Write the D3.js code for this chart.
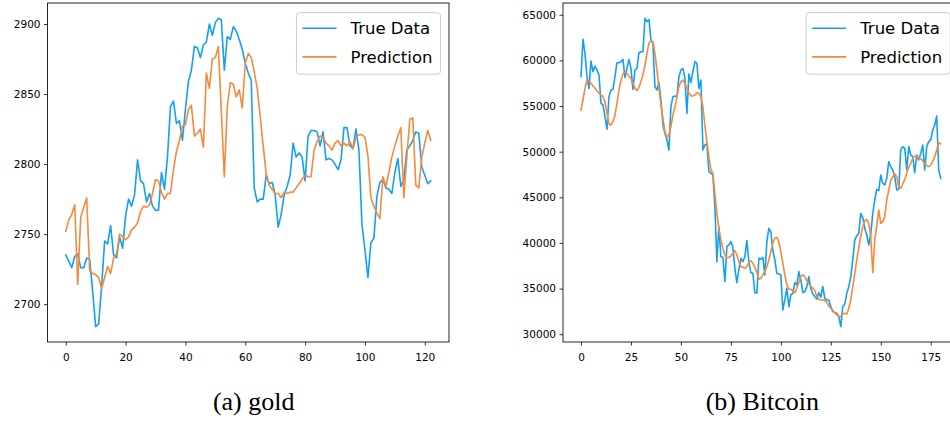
<!DOCTYPE html>
<html>
<head>
<meta charset="utf-8">
<script src="https://cdn.jsdelivr.net/npm/d3@7"></script>
<style>
  body { margin: 0; background: #fff; }
  svg { display: block; }
</style>
</head>
<body>
<svg id="fig" width="950" height="423"></svg>
<script>
// ---- data ----
const goldTrue = [2735,2731,2726,2734,2736,2726,2726,2733,2732,2709,2684,2686,2713,2745,2743,2756,2735,2733,2748,2740,
  2763,2775,2770,2778,2803,2788,2786,2773,2779,2770,2767,2767,2794,2782,2805,2841,2845,2829,2831,2817,
  2839,2859,2867,2884,2883,2876,2885,2887,2900,2892,2901,2904,2903,2867,2891,2889,2898,2895,2889,2882,
  2872,2865,2860,2783,2773,2775,2775,2792,2786,2787,2778,2755,2764,2778,2784,2792,2815,2805,2808,2805,
  2788,2820,2824,2824,2823,2813,2823,2803,2804,2803,2800,2796,2803,2826,2826,2813,2811,2825,2810,2757,
  2739,2719,2744,2747,2777,2787,2789,2783,2782,2779,2794,2804,2784,2789,2810,2813,2817,2823,2822,2798,
  2792,2786,2788];
const goldPred = [2752,2760,2764,2771,2714,2762,2769,2776,2724,2722,2721,2719,2711,2719,2727,2722,2733,2736,2750,2748,
  2746,2748,2753,2755,2758,2766,2770,2769,2771,2779,2789,2788,2780,2775,2779,2779,2796,2809,2817,2827,
  2828,2839,2842,2820,2822,2825,2812,2865,2854,2875,2876,2884,2838,2791,2841,2858,2857,2848,2853,2840,
  2872,2879,2876,2866,2854,2834,2813,2793,2785,2782,2779,2779,2776,2780,2779,2780,2780,2783,2786,2789,
  2792,2791,2791,2810,2816,2820,2819,2815,2813,2810,2815,2817,2813,2815,2813,2816,2811,2819,2821,2821,
  2819,2806,2776,2770,2765,2761,2791,2784,2794,2805,2813,2820,2826,2776,2805,2832,2833,2785,2783,2805,
  2815,2824,2817];

const btcTrue = [58215,62300,60770,58215,56940,59930,58760,59380,58945,58400,55300,55115,53835,52450,56025,56755,56830,58215,59750,59750,
  59860,60115,58140,59125,60115,59125,56830,58945,59125,60840,60950,60950,64600,64240,64490,62230,61865,57120,56755,57560,
  55660,52920,52010,51280,50185,54930,56025,56100,56025,58215,58945,59125,58030,54200,58510,57560,58760,59860,59675,56940,
  57850,50185,50730,50840,47810,47630,47445,43977,37950,41787,38502,38430,35765,39597,39780,40145,39524,37225,35655,37042,
  38320,37950,38502,40254,37950,36750,36677,34560,34487,38320,38210,38430,36495,40145,41605,41240,39232,38137,36677,36604,
  36495,32662,33757,35035,33027,34305,34487,35655,35400,36860,35947,34560,34670,35217,36312,35035,34414,34122,33830,34560,
  34050,35217,33940,33757,33757,33027,32480,32370,32297,31932,30837,33027,33319,34487,35217,36312,38137,40327,40765,41057,
  43247,42809,41605,40875,39780,40984,43247,44707,45875,45729,47445,46532,46350,47080,48905,48357,47992,47262,45802,45875,
  50185,50550,50370,47995,50550,49637,49455,47700,49637,49090,49820,50730,47992,50550,51100,51280,52375,52920,53910,47995,
  47080];
const btcPred = [54565,55660,56940,57850,57740,57485,57190,56940,56680,56390,56210,56025,55480,54200,53030,52920,53285,54020,55300,56755,
  57850,58510,58760,58580,58290,58030,57485,56940,56680,57050,57670,58400,59490,60770,61865,62160,62050,60770,58945,56940,
  55115,53650,52190,51570,51830,52740,54020,54930,56025,57120,57670,57850,57485,56940,56465,56100,56100,56210,56465,56390,
  56025,54930,52920,51100,49455,47995,47627,45437,43247,41605,40327,39415,38685,38320,38430,38575,38867,39159,38685,37950,
  37407,37334,37225,37407,37845,38064,37772,37334,36750,36020,36130,36495,36860,37407,38137,39050,39962,40510,40619,40145,
  39050,37772,36495,35400,34925,34925,34780,34560,35035,35655,36312,36495,36312,35874,35510,35290,35035,34780,34122,33830,
  33757,33757,33684,33465,33100,32845,32590,32370,32115,32005,31932,32225,32297,32225,32845,33757,35217,36677,38137,39524,
  40765,41787,42444,42590,42152,40692,36750,40327,41970,43612,42152,42334,42882,44707,45802,46824,47262,47554,47262,46167,
  45984,46459,46970,47627,48284,48725,49272,49528,49455,49309,49200,49017,48725,48470,48360,48540,48905,49455,50185,50990,
  50840];

const goldXTicks = [0, 20, 40, 60, 80, 100, 120];
const goldYTicks = [2700, 2750, 2800, 2850, 2900];
const btcXTicks = [0, 25, 50, 75, 100, 125, 150, 175];
const btcYTicks = [30000, 35000, 40000, 45000, 50000, 55000, 60000, 65000];

const seriesNames = ["True Data", "Prediction"];
const seriesColors = ["#14a0f2", "#f7893c"];
const captions = ["(a) gold", "(b) Bitcoin"];

// ---- drawing ----
const svg = d3.select("#fig");
const TICK_FONT = "'DejaVu Sans', sans-serif";

function drawPanel(cfg) {
  const { box, series, xTicks, yTicks, caption, captionX } = cfg;
  const n = series[0].length;
  const span = n - 1;
  const x = d3.scaleLinear()
    .domain([-0.05 * span, 1.05 * span])
    .range([box.left, box.right]);

  const lo = d3.min(series, s => d3.min(s));
  const hi = d3.max(series, s => d3.max(s));
  const pad = (hi - lo) * 0.05;
  const y = d3.scaleLinear()
    .domain([lo - pad, hi + pad])
    .range([box.bottom, box.top]);

  const g = svg.append("g");

  // data lines
  const line = d3.line().x((d, i) => x(i)).y(d => y(d));
  series.forEach((s, k) => {
    g.append("path")
      .datum(s)
      .attr("d", line)
      .attr("fill", "none")
      .attr("stroke", seriesColors[k])
      .attr("stroke-width", 1.6)
      .attr("stroke-linejoin", "round")
      .attr("stroke-linecap", "square");
  });

  // axes
  const xAxis = d3.axisBottom(x).tickValues(xTicks).tickSize(3.5).tickPadding(8)
    .tickFormat(d3.format("d"));
  const yAxis = d3.axisLeft(y).tickValues(yTicks).tickSize(3.5).tickPadding(3.5)
    .tickFormat(d3.format("d"));

  const gx = g.append("g").attr("transform", `translate(0,${box.bottom})`).call(xAxis);
  const gy = g.append("g").attr("transform", `translate(${box.left},0)`).call(yAxis);
  [gx, gy].forEach(a => {
    a.select(".domain").remove();
    a.selectAll(".tick line").attr("stroke", "#000").attr("stroke-width", 0.8);
    a.selectAll(".tick text")
      .attr("fill", "#000")
      .style("font-family", TICK_FONT)
      .style("font-size", "10.5px");
  });

  // frame
  g.append("rect")
    .attr("x", box.left).attr("y", box.top)
    .attr("width", box.right - box.left)
    .attr("height", box.bottom - box.top)
    .attr("fill", "none")
    .attr("stroke", "#111")
    .attr("stroke-width", 0.9);

  // legend (upper right)
  const lw = 144, lh = 61.5;
  const lx = box.right - 8.5 - lw, ly = box.top + 9.7;
  const lg = g.append("g").attr("transform", `translate(${lx},${ly})`);
  lg.append("rect")
    .attr("width", lw).attr("height", lh).attr("rx", 3).attr("ry", 3)
    .attr("fill", "#fff").attr("fill-opacity", 0.8)
    .attr("stroke", "#cccccc").attr("stroke-width", 1);
  seriesNames.forEach((name, k) => {
    const cy = 15.5 + k * 28.7;
    lg.append("line")
      .attr("x1", 6).attr("x2", 40).attr("y1", cy).attr("y2", cy)
      .attr("stroke", seriesColors[k]).attr("stroke-width", 1.6);
    lg.append("text")
      .attr("x", 54).attr("y", cy).attr("dy", "0.36em")
      .attr("fill", "#000")
      .style("font-family", TICK_FONT)
      .style("font-size", "16.5px")
      .text(name);
  });

  // caption
  svg.append("text")
    .attr("x", captionX).attr("y", 410)
    .attr("text-anchor", "middle")
    .attr("fill", "#000")
    .style("font-family", "'Liberation Serif', 'Times New Roman', serif")
    .style("font-size", "26px")
    .text(caption);
}

drawPanel({
  box: { left: 47.5, right: 449, top: 3, bottom: 342 },
  series: [goldTrue, goldPred],
  xTicks: goldXTicks, yTicks: goldYTicks,
  caption: captions[0], captionX: 253.7
});

drawPanel({
  box: { left: 563, right: 958.7, top: 3, bottom: 342 },
  series: [btcTrue, btcPred],
  xTicks: btcXTicks, yTicks: btcYTicks,
  caption: captions[1], captionX: 762.4
});
</script>
</body>
</html>
